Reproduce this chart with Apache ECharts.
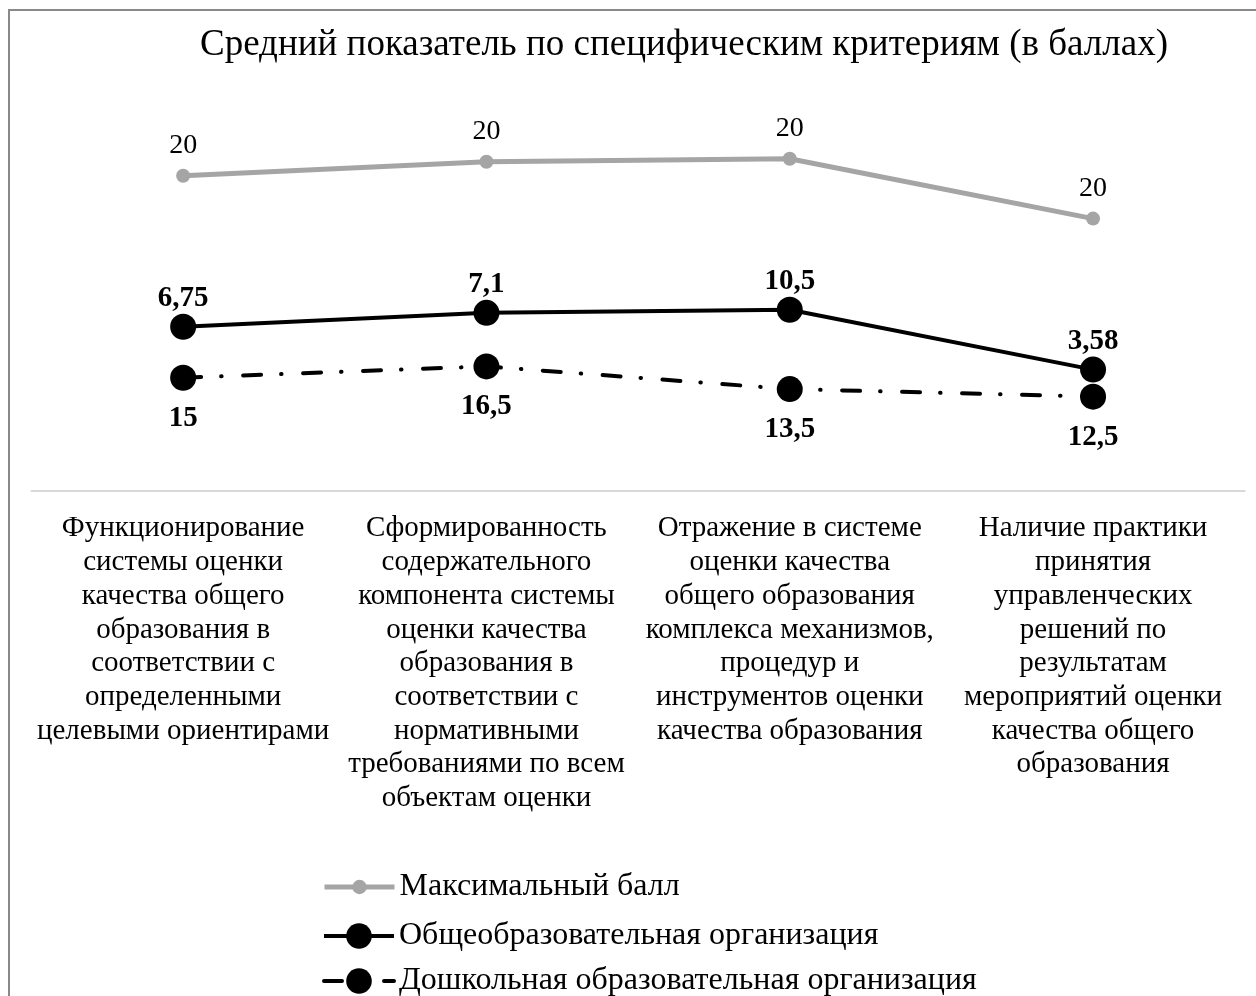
<!DOCTYPE html>
<html>
<head>
<meta charset="utf-8">
<script src="https://cdn.jsdelivr.net/npm/echarts@6/dist/echarts.min.js"></script>
<style>
  html, body { margin: 0; padding: 0; background: #fff; }
  #chart { width: 1256px; height: 996px; }
</style>
</head>
<body>
<div id="chart"></div>
<script>
// категории (подписи оси X)
var categories = [
  'Функционирование\nсистемы оценки\nкачества общего\nобразования в\nсоответствии с\nопределенными\nцелевыми ориентирами',
  'Сформированность\nсодержательного\nкомпонента системы\nоценки качества\nобразования в\nсоответствии с\nнормативными\nтребованиями по всем\nобъектам оценки',
  'Отражение в системе\nоценки качества\nобщего образования\nкомплекса механизмов,\nпроцедур и\nинструментов оценки\nкачества образования',
  'Наличие практики\nпринятия\nуправленческих\nрешений по\nрезультатам\nмероприятий оценки\nкачества общего\nобразования'
];

// значения рядов (график с накоплением)
var preschool = [15, 16.5, 13.5, 12.5];   // Дошкольная образовательная организация
var school = [6.75, 7.1, 10.5, 3.58];     // Общеобразовательная организация
var maxScore = [20, 20, 20, 20];          // Максимальный балл

var names = ['Максимальный балл', 'Общеобразовательная организация', 'Дошкольная образовательная организация'];

var FONT = 'Liberation Serif';

function comma(p) {
  return String(p.value).replace('.', ',');
}

var legendText = { fontFamily: FONT, fontSize: 32, lineHeight: 32, color: '#000' };

var myChart = echarts.init(document.getElementById('chart'));

var option = {
  backgroundColor: '#fff',
  animation: false,
  title: {
    text: 'Средний показатель по специфическим критериям (в баллах)',
    left: 684,
    textAlign: 'center',
    top: 27,
    padding: 0,
    textStyle: { fontFamily: FONT, fontSize: 37, lineHeight: 37, fontWeight: 'normal', color: '#000' }
  },
  graphic: [{
    type: 'rect',
    shape: { x: 9, y: 10, width: 1400, height: 1200 },
    style: { fill: 'none', stroke: '#898989', lineWidth: 2 },
    silent: true
  }],
  // три отдельные легенды, чтобы маркеры были разного размера
  legend: [
    {
      data: [names[0]], left: 322, top: 871, padding: 0, itemWidth: 70, itemHeight: 18,
      lineStyle: { width: 5 },
      textStyle: legendText
    },
    {
      data: [names[1]], left: 322, top: 920, padding: 0, itemWidth: 70, itemHeight: 32,
      lineStyle: { width: 4 },
      textStyle: legendText
    },
    {
      data: [names[2]], left: 322, top: 965, padding: 0, itemWidth: 70, itemHeight: 32,
      lineStyle: { width: 4 },
      textStyle: legendText
    }
  ],
  grid: { left: 31.5, right: 11.3, top: 113.5, bottom: 505 },
  xAxis: {
    type: 'category',
    data: categories,
    boundaryGap: true,
    axisLine: { lineStyle: { color: '#d9d9d9', width: 2 } },
    axisTick: { show: false },
    axisLabel: {
      interval: 0,
      margin: 21,
      fontFamily: FONT,
      fontSize: 29,
      lineHeight: 33.7,
      color: '#000',
      align: 'center'
    }
  },
  yAxis: {
    type: 'value',
    min: 0,
    max: 50,
    show: false,
    splitLine: { show: false }
  },
  series: [
    {
      name: names[2],
      type: 'line',
      stack: 'total',
      data: preschool,
      symbol: 'circle',
      symbolSize: 26,
      color: '#000',
      lineStyle: { color: '#000', width: 4, type: [18, 20, 0.5, 21.5], cap: 'round' },
      itemStyle: { color: '#000' },
      label: {
        show: true, position: 'bottom', distance: 13,
        fontFamily: FONT, fontSize: 29, fontWeight: 'bold', color: '#000',
        formatter: comma
      },
      z: 3
    },
    {
      name: names[1],
      type: 'line',
      stack: 'total',
      data: school,
      symbol: 'circle',
      symbolSize: 26,
      color: '#000',
      lineStyle: { color: '#000', width: 4 },
      itemStyle: { color: '#000' },
      label: {
        show: true, position: 'top', distance: 1,
        fontFamily: FONT, fontSize: 29, fontWeight: 'bold', color: '#000',
        formatter: comma
      },
      z: 4
    },
    {
      name: names[0],
      type: 'line',
      stack: 'total',
      data: maxScore,
      symbol: 'circle',
      symbolSize: 14,
      color: '#a5a5a5',
      lineStyle: { color: '#a5a5a5', width: 5 },
      itemStyle: { color: '#a5a5a5' },
      label: {
        show: true, position: 'top', distance: 9,
        fontFamily: FONT, fontSize: 28, color: '#000',
        formatter: comma
      },
      z: 2
    }
  ]
};

option && myChart.setOption(option);
</script>
</body>
</html>
